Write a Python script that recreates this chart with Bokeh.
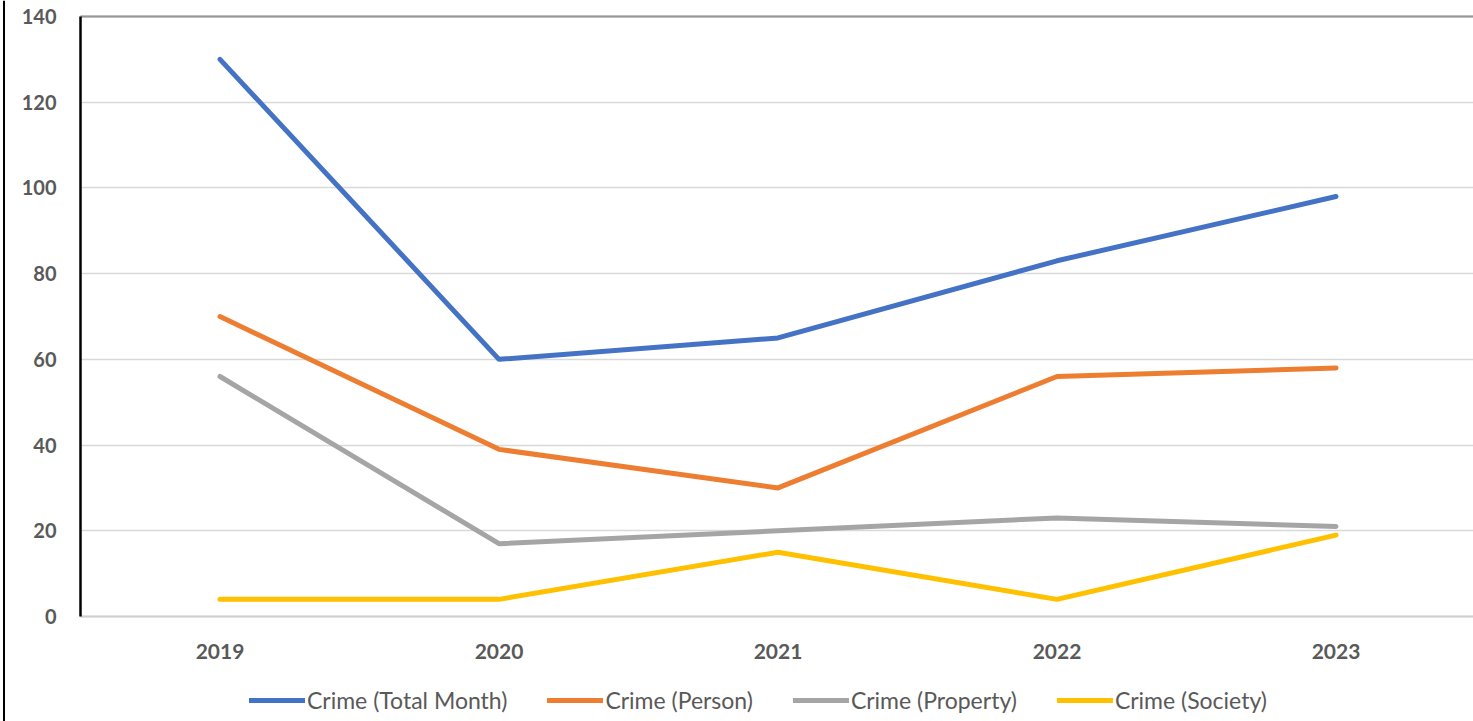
from bokeh.plotting import figure
from bokeh.models import Legend, LegendItem, Span, FixedTicker, Range1d, BoxAnnotation
from bokeh.embed import file_html
from bokeh.resources import INLINE

years = ["2019", "2020", "2021", "2022", "2023"]
total_month = [130, 60, 65, 83, 98]
person = [70, 39, 30, 56, 58]
property_ = [56, 17, 20, 23, 21]
society = [4, 4, 15, 4, 19]

series = [
    ("Crime (Total Month)", total_month, "#4472C4"),
    ("Crime (Person)", person, "#ED7D31"),
    ("Crime (Property)", property_, "#A5A5A5"),
    ("Crime (Society)", society, "#FFC000"),
]

xs = list(range(len(years)))
x_lo, x_hi = -0.5, 4.4928
y_lo, y_hi = 0, 140

p = figure(width=1473, height=721, output_backend="svg", toolbar_location=None,
           x_range=Range1d(-0.7867, x_hi), y_range=Range1d(-24.5, 143.733),
           min_border_left=0, min_border_right=0, min_border_top=0, min_border_bottom=0)

p.outline_line_color = None
p.background_fill_color = "white"
p.border_fill_color = "white"

items = []
for name, vals, col in series:
    r = p.line(xs, vals, line_color=col, line_width=5, line_cap="round", line_join="round")
    items.append(LegendItem(label=name, renderers=[r]))

# axes (drawn inside the frame)
p.xaxis.fixed_location = 0
p.xaxis.bounds = (x_lo, x_hi)
p.yaxis.fixed_location = x_lo
p.yaxis.bounds = (y_lo, y_hi)
p.xaxis.ticker = FixedTicker(ticks=xs)
p.xaxis.major_label_overrides = {i: y for i, y in enumerate(years)}
p.yaxis.ticker = FixedTicker(ticks=[0, 20, 40, 60, 80, 100, 120, 140])
for ax in (p.xaxis[0], p.yaxis[0]):
    ax.major_tick_line_color = None
    ax.minor_tick_line_color = None
    ax.major_label_text_font = "Lato"
    ax.major_label_text_font_style = "bold"
    ax.major_label_text_color = "#595959"
p.xaxis.major_label_text_font_size = "21px"
p.yaxis.major_label_text_font_size = "20px"
p.yaxis.axis_line_color = "black"
p.yaxis.axis_line_width = 2.5
p.yaxis.major_label_standoff = 18
p.xaxis.axis_line_color = "#D0D0D0"
p.xaxis.axis_line_width = 2
p.xaxis.major_label_standoff = 22

p.xgrid.grid_line_color = None
p.ygrid.grid_line_color = "#D9D9D9"
p.ygrid.grid_line_width = 1.5
p.ygrid.cross_bounds = (x_lo, x_hi)

# top frame line
p.add_layout(BoxAnnotation(left=x_lo, bottom=y_hi, top=y_hi, fill_alpha=0,
                           line_color="black", line_width=2.5))
# outer chart border on the left
p.add_layout(Span(location=3.5, location_units="screen", dimension="height",
                  line_color="black", line_width=2))

legend = Legend(items=items, orientation="horizontal", location=(249, 7),
                glyph_width=56, glyph_height=10, label_standoff=2, spacing=40,
                padding=0, margin=0, border_line_color=None,
                label_text_font="Lato", label_text_font_size="23px",
                label_text_color="#595959", background_fill_alpha=0)
p.add_layout(legend, "center")

open("out.html", "w").write(file_html(p, INLINE))
